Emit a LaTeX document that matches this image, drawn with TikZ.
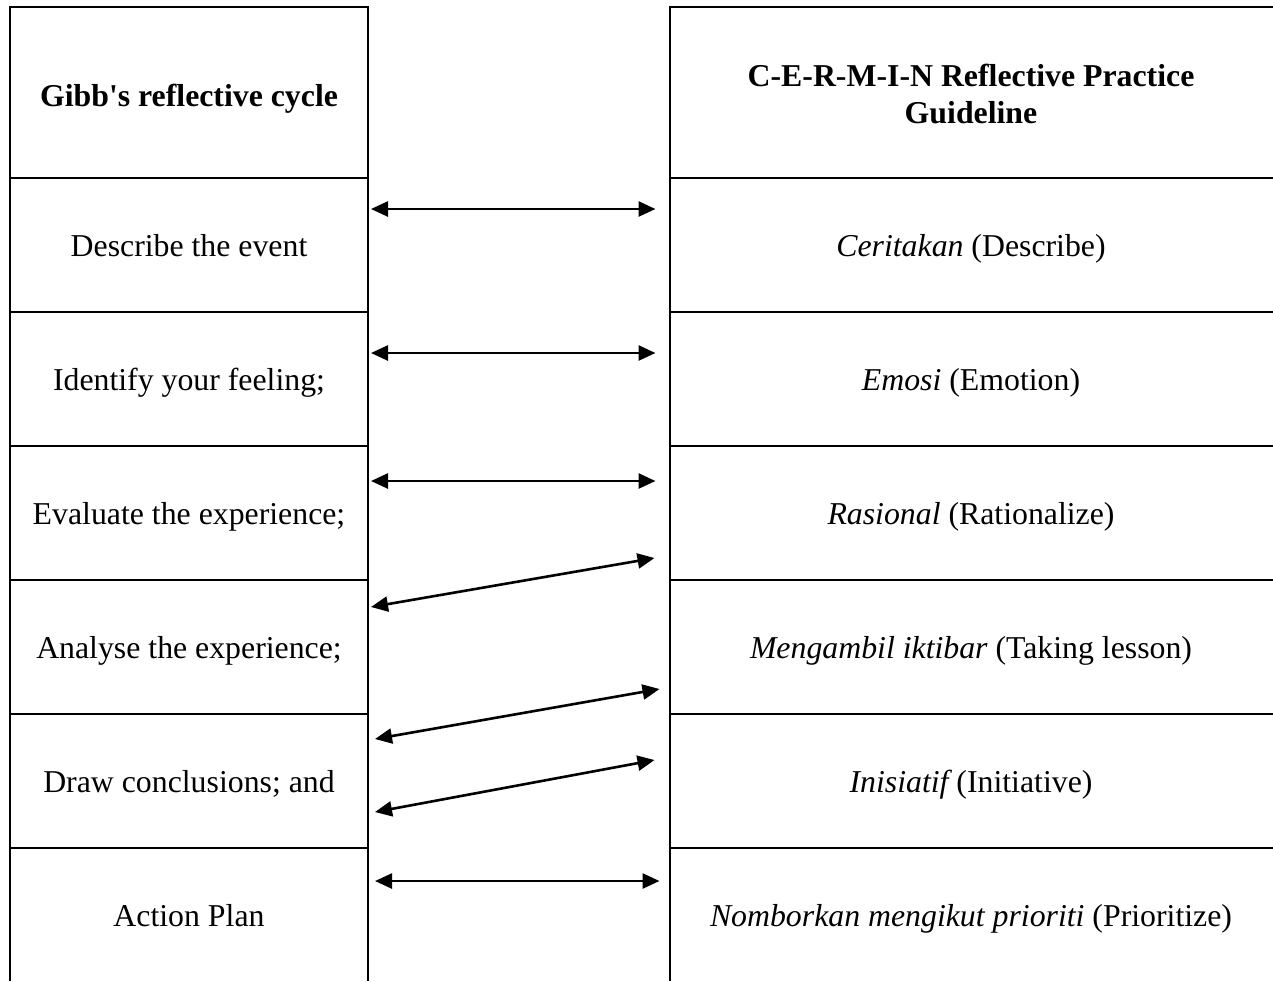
\documentclass[tikz,border=0pt]{standalone}
\usepackage{fontspec}
\setmainfont{Liberation Serif}
\usetikzlibrary{arrows.meta}

\tikzset{
  txt/.style={font=\fontsize{15.9}{18.5}\selectfont, inner sep=0pt, align=center,
    text height=10.5pt, text depth=0pt},
  head/.style={txt, font=\fontsize{15.9}{18.5}\selectfont\bfseries},
  gcell/.style={txt, minimum width=179pt, minimum height=67pt},
  ccell/.style={txt, minimum width=301.5pt, minimum height=67pt},
  link/.style={{Triangle[length=8.5pt,width=7.5pt]}-{Triangle[length=8.5pt,width=7.5pt]}, line width=1.3pt}
}

\begin{document}
\begin{tikzpicture}[x=0.5pt, y=-0.5pt, line width=1pt]
  \useasboundingbox (0,0) rectangle (1273,981);

  %--- table lines (bottom and right side run off the page) ---
  \draw (10,981) -- (10,7) -- (368,7) -- (368,981);
  \draw (1273,7) -- (670,7) -- (670,981);
  \foreach \y in {178,312,446,580,714,848} {
    \draw (10,\y) -- (368,\y);
    \draw (670,\y) -- (1273,\y);
  }

  %--- headers ---
  \node[head] (gh) at (189,96) {Gibb\textquotesingle s reflective cycle};
  \node[head, text height=, text depth=] (ch) at (971,94) {C-E-R-M-I-N Reflective Practice\\Guideline};

  %--- Gibbs column ---
  \node[gcell] (g1) at (189,246) {Describe the event};
  \node[gcell] (g2) at (189,380) {Identify your feeling;};
  \node[gcell] (g3) at (189,514) {Evaluate the experience;};
  \node[gcell] (g4) at (189,648) {Analyse the experience;};
  \node[gcell] (g5) at (189,782) {Draw conclusions; and};
  \node[gcell] (g6) at (189,916) {Action Plan};

  %--- CERMIN column ---
  \node[ccell] (c1) at (971,246) {{\itshape Ceritakan} (Describe)};
  \node[ccell] (c2) at (971,380) {{\itshape Emosi} (Emotion)};
  \node[ccell] (c3) at (971,514) {{\itshape Rasional} (Rationalize)};
  \node[ccell] (c4) at (971,648) {{\itshape Mengambil iktibar} (Taking lesson)};
  \node[ccell] (c5) at (971,782) {{\itshape Inisiatif} (Initiative)};
  \node[ccell] (c6) at (971,916) {{\itshape Nomborkan mengikut prioriti} (Prioritize)};

  %--- links ---
  \draw[link] ([xshift=1pt,yshift=18.5pt]g1.east) -- ([xshift=-6.5pt,yshift=18.5pt]c1.west);
  \draw[link] ([xshift=1pt,yshift=13.5pt]g2.east) -- ([xshift=-6.5pt,yshift=13.5pt]c2.west);
  \draw[link] ([xshift=1pt,yshift=16.5pt]g3.east) -- ([xshift=-6.5pt,yshift=16.5pt]c3.west);
  \draw[link] ([xshift=1pt,yshift=20.5pt]g4.east) -- ([xshift=-7pt,yshift=-22pt]c3.west);
  \draw[link] ([xshift=3pt,yshift=21.5pt]g5.east) -- ([xshift=-4.5pt,yshift=-20.5pt]c4.west);
  \draw[link] ([xshift=3pt,yshift=-15pt]g5.east) -- ([xshift=-7pt,yshift=11pt]c5.west);
  \draw[link] ([xshift=3pt,yshift=17.5pt]g6.east) -- ([xshift=-4.5pt,yshift=17.5pt]c6.west);
\end{tikzpicture}
\end{document}
